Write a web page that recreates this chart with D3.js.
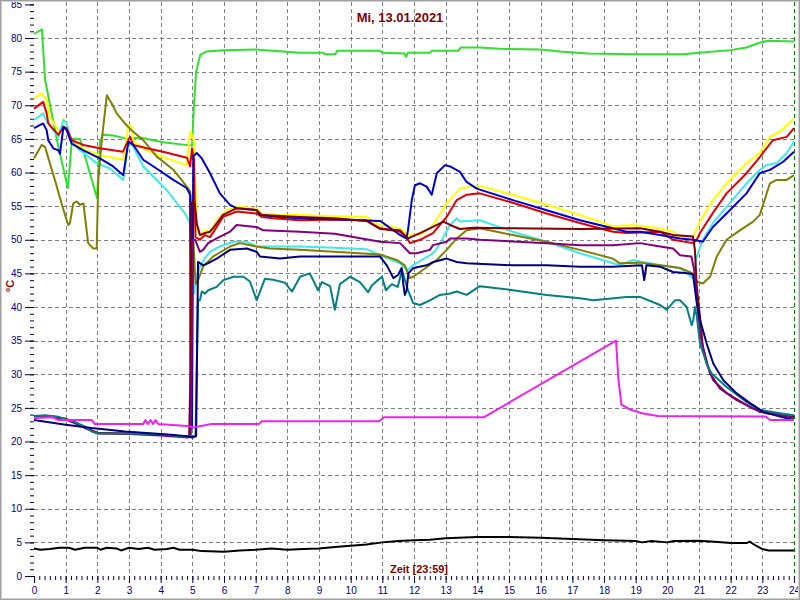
<!DOCTYPE html>
<html>
<head>
<meta charset="utf-8">
<script src="https://cdn.jsdelivr.net/npm/d3@7"></script>
<style>
  html, body { margin: 0; padding: 0; background: #ffffff; }
  svg { display: block; font-family: "Liberation Sans", Arial, sans-serif; }
</style>
</head>
<body>
<script>
// ---------- data ----------
const titleText = "Mi, 13.01.2021";
const xLabelText = "Zeit [23:59]";
const yLabelText = "°C";
const hourTicks = d3.range(0, 25, 1);
const valueTicks = d3.range(0, 86, 5);

const green = [[0,80.6],[0.25,81.3],[0.35,73.8],[0.77,63.8],[1.07,57.7],[1.2,65],[1.45,65],[1.99,56.2],[2.08,64.5],[2.18,65.6],[2.5,65.5],[2.94,65],[3.35,65.2],[4.07,64.5],[4.99,64],[5.05,70],[5.12,75],[5.25,77.5],[5.45,78],[6,78.2],[7,78.3],[8.4,77.8],[9.13,77.8],[9.18,77.6],[9.52,77.6],[9.57,78.1],[10.93,78.1],[11.0,77.8],[11.7,77.7],[11.75,77.2],[11.8,77.8],[12.5,77.8],[12.57,78.1],[13.4,78.1],[13.48,78.6],[14.08,78.6],[14.71,78.4],[16,78.3],[16.6,78],[17.5,77.7],[19,77.6],[20.5,77.6],[21,77.8],[22,78.2],[22.5,78.6],[22.9,79.3],[23.2,79.6],[24,79.5]];

const yellow = [[0,71],[0.24,71.8],[0.4,70.8],[0.5,68.3],[0.82,65.8],[0.93,68],[1.03,67.1],[1.19,64.6],[1.66,63.3],[2.08,62.6],[2.82,61.9],[2.98,67.1],[3.08,66.8],[3.14,64.6],[3.56,63.3],[4.19,62.1],[4.82,61.1],[4.93,66.1],[5.03,65.1],[5.06,63.8],[5.14,51.5],[5.24,50.7],[5.4,51.4],[5.56,51.2],[5.77,52.9],[6.08,54.4],[6.4,54.9],[7.03,54.7],[7.19,53.9],[7.77,53.7],[8.4,53.7],[9.5,53.5],[10.5,53.4],[10.93,52.2],[11.56,51.7],[11.81,50.7],[12.19,50.7],[12.6,52.2],[13.03,55.4],[13.45,57.6],[13.86,58],[14.08,58],[15.12,56.7],[16.19,55.2],[17.24,53.7],[18.28,52],[18.91,52.2],[19.77,51.7],[20.18,51.2],[20.4,50.5],[20.81,50.5],[21.03,52.7],[21.44,55.9],[21.87,58.4],[22.5,61.4],[22.92,62.9],[23.24,65.3],[23.56,66.1],[24,68]];

const red = [[0,69.5],[0.29,70.5],[0.4,68.8],[0.45,67.3],[0.77,65.6],[0.93,66.8],[1.03,66.6],[1.19,64.8],[1.56,64.1],[2.08,63.6],[2.81,63.1],[3.03,65.3],[3.13,64.1],[3.57,63.6],[4.07,63.1],[4.83,62.2],[4.93,60.9],[4.99,63.6],[5.05,61.9],[5.1,50.4],[5.24,50],[5.4,50.7],[5.56,50.4],[5.77,51.9],[5.97,53.4],[6.4,54.2],[7.03,53.9],[7.19,53.4],[7.55,53.2],[8.4,52.9],[9.5,53],[10.5,52.9],[10.93,51.7],[11.56,51.2],[11.81,50],[11.87,49.5],[12.19,50],[12.6,51],[13.03,53.4],[13.35,55.9],[13.66,56.7],[14.08,56.9],[15.12,55.5],[16.19,53.9],[17.24,52.5],[18.28,51.2],[18.71,51],[19.77,51.2],[20.18,50],[20.81,49.5],[20.93,50],[21.03,51],[21.44,54],[21.87,56.9],[22.5,59.9],[22.92,62.3],[23.33,64.8],[23.77,65.3],[24,66.6]];

const cyan = [[0,67.8],[0.29,68.8],[0.4,67.6],[0.77,65.3],[0.93,67.8],[1.03,67.3],[1.19,64.6],[1.45,63.3],[1.98,61.4],[2.4,60.6],[2.82,58.9],[2.98,64.6],[3.14,63.8],[3.45,60.9],[4.19,57.4],[4.77,53.9],[4.93,52.5],[5.0,45],[5.06,42],[5.14,44.5],[5.24,46],[5.4,47.3],[5.56,48.2],[5.87,49],[6.28,49.7],[6.72,49.7],[7.03,49],[8.4,49],[9.5,48.8],[10.5,48.6],[10.93,47.7],[11.56,46.5],[11.71,45.8],[11.81,45.5],[11.97,46.2],[12.6,48],[12.72,48.7],[12.82,49.5],[13.14,52.2],[13.35,53.2],[13.45,52.7],[14.08,52.9],[15.12,51.2],[16.19,49.7],[17.24,48],[18.5,46.2],[18.91,47],[19.77,46.2],[20.4,45.8],[20.81,44.3],[20.93,47.5],[21.12,50],[21.44,52.5],[21.87,54.9],[22.5,58.4],[22.92,60.4],[23.13,61.1],[23.45,61.4],[23.77,62.9],[24,64.6]];

const blue = [[0,66.6],[0.29,67.3],[0.4,66.3],[0.45,64.8],[0.61,63.6],[0.77,63.3],[0.82,62.8],[0.93,66.8],[1.03,66.3],[1.19,64.3],[1.56,63.3],[2.08,62.1],[2.5,60.9],[2.82,59.6],[2.98,64.6],[3.14,64.1],[3.45,61.9],[3.87,60.6],[4.4,58.9],[4.82,57.7],[4.93,56.7],[4.95,22],[4.99,22],[5.03,62.4],[5.14,62.9],[5.3,62.1],[5.56,59.9],[5.87,56.9],[6.19,55.2],[6.4,54.7],[7.03,54.4],[7.14,53.7],[7.77,53.4],[8.4,53.2],[10.93,52.8],[11.56,50.7],[11.76,50.2],[11.81,51.4],[11.93,55.9],[12.03,58.1],[12.19,58.4],[12.4,57.9],[12.56,56.7],[12.72,59.9],[12.98,61.1],[13.14,60.9],[13.45,60.1],[13.66,58.6],[13.98,57.6],[15.12,55.9],[16.19,54.4],[17.24,52.9],[18.28,51.7],[18.71,51.2],[19.14,51.2],[19.77,50.7],[20.4,50.2],[20.81,50],[21.12,49.7],[21.44,51.9],[21.87,53.9],[22.5,56.9],[22.92,59.9],[23.24,60.4],[23.66,61.6],[24,63.1]];

const olive = [[0,62.1],[0.24,64.1],[0.35,63.8],[0.5,61.4],[0.66,58.9],[0.87,55.4],[1.08,52.2],[1.13,52.4],[1.24,55.4],[1.35,55.7],[1.45,55.2],[1.56,55.4],[1.71,49.5],[1.87,48.7],[1.98,48.7],[2.03,58.9],[2.14,64.8],[2.3,71.5],[2.45,70.3],[2.61,68.8],[2.87,67.3],[3.08,66.3],[3.45,64.8],[3.87,62.4],[4.4,60.4],[4.66,58.9],[4.93,57.2],[5.0,53],[5.1,43.5],[5.14,43.5],[5.34,46],[5.65,47.5],[6.19,49],[6.5,49.5],[7.03,49],[7.45,48.7],[8.4,48.5],[10.93,47.8],[11.45,47],[11.71,46.2],[11.87,44.3],[11.97,44.5],[12.28,45.5],[12.72,47],[13.03,48.5],[13.35,50.2],[13.66,51.4],[14.08,51.7],[15.12,50.7],[16.19,49.7],[17.24,48.5],[18.28,47.2],[18.5,46.5],[19.14,46.6],[19.77,46.2],[20.4,45.8],[20.81,45],[20.93,43.8],[21.12,43.5],[21.35,44.5],[21.56,47.5],[21.87,50],[22.29,51.4],[22.71,52.7],[22.92,53.7],[23.24,58.4],[23.45,58.9],[23.77,58.9],[24,59.6]];

const maroon = [[0,23.7],[0.5,23.8],[1,23.4],[1.3,22.8],[1.7,21.9],[2,21.3],[3,21.2],[4,21.0],[4.8,20.7],[4.9,20.8],[4.94,30],[4.97,55.5],[5.08,55.4],[5.14,52.4],[5.24,50.7],[5.4,51],[5.56,51.2],[5.65,51.7],[5.97,53.7],[6.4,54.7],[7.03,54.4],[7.19,53.7],[8.4,53.4],[9.5,53.2],[10.5,52.8],[10.93,51.6],[11.56,51.4],[11.81,50.2],[12.19,51],[12.5,51.7],[12.93,52.7],[13.14,52.2],[13.45,51.6],[13.86,51.8],[15.12,51.7],[17.24,51.6],[19.14,51.7],[19.77,51.2],[20.18,50.7],[20.81,50.5],[20.87,48.5],[20.93,43],[21.03,38.6],[21.12,34.1],[21.35,30.1],[21.66,27.9],[22.18,26.2],[22.71,24.9],[23.13,24.2],[23.56,23.9],[24,23.7]];

const purple = [[0,23.6],[0.5,23.7],[1,23.3],[1.3,22.7],[1.7,21.8],[2,21.2],[3,21.1],[4,20.9],[4.85,20.6],[4.95,20.7],[5.02,50],[5.09,50],[5.24,48.2],[5.34,48.5],[5.5,49.5],[5.77,50.2],[6.19,51.2],[6.4,52.2],[7.03,51.9],[7.24,51.4],[8.4,51.2],[9.5,50.9],[10.93,49.7],[11.56,49.5],[11.87,48],[12.08,48],[12.5,48.5],[12.6,49.2],[13.03,49.7],[13.14,50.2],[13.66,50.2],[14.08,50],[16.19,49.5],[17.24,49.2],[18.28,49.2],[19.14,49.5],[19.77,49],[20.18,48.7],[20.4,47.7],[20.76,47.5],[20.87,45],[20.93,41],[21.03,36.1],[21.24,31.6],[21.45,29.1],[21.87,27.2],[22.4,25.7],[22.92,24.4],[23.33,24.2],[24,23.5]];

const teal = [[0,23.8],[0.35,23.9],[0.77,23.7],[0.98,23.3],[1.29,22.9],[1.61,22.2],[1.82,21.5],[2.03,21.2],[2.87,21.2],[3.93,21.1],[4.77,20.7],[4.93,20.9],[5.1,20.8],[5.18,41],[5.24,41],[5.3,42.3],[5.4,42],[5.5,42.5],[5.77,43],[5.98,44],[6.3,44.5],[6.61,44.5],[6.82,43.8],[7.03,41],[7.29,44.2],[7.6,44],[7.93,43.6],[8.15,42.3],[8.4,44.5],[8.71,45],[8.97,42.5],[9.09,43.7],[9.35,43.1],[9.5,39.6],[9.66,43.4],[9.98,44.5],[10.29,43.7],[10.55,42.2],[10.67,43.2],[10.86,44],[10.99,44.5],[11.11,42.5],[11.3,43.4],[11.49,43],[11.62,45.5],[11.81,42.5],[11.97,40.6],[12.19,40.3],[12.5,41],[12.82,41.8],[13.14,42],[13.35,42.3],[13.66,41.8],[14.08,43.1],[15.12,42.5],[16.19,41.8],[17.24,41.3],[17.66,41],[18.71,41.5],[19.14,41.5],[19.77,40.3],[19.98,39.6],[20.24,41],[20.4,41],[20.61,40],[20.77,37.3],[20.82,38.1],[20.87,40],[20.93,38.6],[21.03,34.6],[21.24,31.6],[21.4,30.1],[21.87,28.1],[22.5,25.9],[22.92,24.7],[23.56,24.2],[24,23.9]];

const navy = [[0,23.2],[1,22.5],[1.82,22],[2.87,21.5],[4.34,21],[4.82,20.8],[5.0,20.6],[5.12,20.8],[5.18,46.7],[5.34,46.2],[5.49,46.5],[5.77,47.2],[6.19,48.5],[6.72,48.7],[7.03,48.2],[7.14,47.5],[7.77,47.2],[8.4,47.5],[10.93,47.5],[11.14,46.2],[11.35,44.3],[11.5,44.8],[11.61,45.8],[11.66,43.5],[11.71,41.8],[11.77,42.5],[11.82,45],[11.98,45.8],[12.4,46.2],[12.61,46.7],[13.03,47.2],[13.35,46.7],[13.66,46.5],[15.12,46.2],[16.19,46.2],[17.24,46],[18.28,46],[19.2,46.2],[19.27,44],[19.34,46.2],[19.77,46],[20.18,45.2],[20.71,45],[20.81,44.8],[20.93,40.6],[21.03,38.1],[21.24,34.6],[21.45,31.6],[21.77,29.1],[22.18,27.2],[22.61,25.7],[23.03,24.4],[23.56,23.7],[24,23.2]];

const magenta = [[0,23.5],[0.6,23.6],[0.75,23.2],[1.82,23.2],[1.92,22.6],[3.45,22.6],[3.52,23.2],[3.6,22.6],[3.68,23.2],[3.76,22.6],[3.84,23.2],[3.92,22.6],[4.85,22.3],[5.05,22.1],[5.6,22.6],[7.1,22.6],[7.2,23],[10.9,23],[11.05,23.6],[14.2,23.6],[18.38,35],[18.45,29.5],[18.55,25.5],[18.8,24.8],[19.2,24.2],[19.7,23.8],[23.1,23.7],[23.25,23.2],[24,23.2]];

const black = [[0,4.1],[0.2,3.9],[0.5,4.0],[0.8,4.2],[1.1,4.2],[1.3,3.9],[1.6,4.2],[2.0,4.2],[2.1,3.9],[2.3,4.2],[2.6,4.1],[2.75,3.8],[3.0,4.2],[3.3,4.0],[3.6,4.2],[3.8,3.9],[4.2,4.0],[4.4,4.2],[4.6,3.9],[5.0,3.9],[5.3,3.7],[6.0,3.6],[6.5,3.8],[7.0,3.9],[7.5,4.1],[8.0,3.9],[8.5,4.0],[9.0,4.1],[9.5,4.3],[10.0,4.5],[10.5,4.7],[11.0,5.0],[11.5,5.2],[12,5.3],[12.5,5.4],[13,5.6],[14,5.8],[15,5.8],[16,5.7],[17,5.5],[18,5.3],[19,5.2],[19.2,5.0],[19.5,5.2],[20,5.0],[20.2,5.2],[21,5.25],[21.5,5.1],[22,4.9],[22.5,4.9],[22.6,5.1],[22.8,4.5],[23,4.0],[23.2,3.8],[24,3.8]];

const seriesList = [
  { data: green,   color: "#30e030" },
  { data: yellow,  color: "#ffff00" },
  { data: cyan,    color: "#40e8e8" },
  { data: olive,   color: "#808000" },
  { data: red,     color: "#e00000" },
  { data: blue,    color: "#0000cc" },
  { data: maroon,  color: "#800000" },
  { data: purple,  color: "#800080" },
  { data: teal,    color: "#008080" },
  { data: navy,    color: "#000080" },
  { data: magenta, color: "#ee22ee" },
  { data: black,   color: "#000000" }
];

// ---------- chart ----------
const W = 800, H = 600;
const x = d3.scaleLinear().domain([0, 24]).range([34, 794]);
const y = d3.scaleLinear().domain([0, 85]).range([576, 4.4]);

const svg = d3.select("body").append("svg").attr("width", W).attr("height", H);
svg.append("rect").attr("x", 0).attr("y", 0).attr("width", W).attr("height", H).attr("fill", "#ffffff");

// grid
const grid = svg.append("g");
grid.selectAll("line.h").data(valueTicks.filter(v => v > 0 && v < 85)).enter().append("line")
  .attr("x1", x(0)).attr("x2", x(24))
  .attr("y1", d => Math.round(y(d)) + 0.5).attr("y2", d => Math.round(y(d)) + 0.5)
  .attr("stroke", "#808080").attr("stroke-width", 1).attr("stroke-dasharray", "4,3");
grid.selectAll("line.v").data(hourTicks.filter(h => h > 0 && h < 24)).enter().append("line")
  .attr("x1", d => Math.round(x(d)) + 0.5).attr("x2", d => Math.round(x(d)) + 0.5)
  .attr("y1", 2).attr("y2", y(0))
  .attr("stroke", "#808080").attr("stroke-width", 1).attr("stroke-dasharray", "4,3");
// current time marker
svg.append("line")
  .attr("x1", Math.round(x(24)) + 0.5).attr("x2", Math.round(x(24)) + 0.5)
  .attr("y1", 2).attr("y2", y(0))
  .attr("stroke", "#008000").attr("stroke-width", 1).attr("stroke-dasharray", "4,3");

// axes
const axisColor = "#000040";
const labelColor = "#000080";
const yMinor = svg.append("g").attr("transform", "translate(34,0)")
  .call(d3.axisLeft(y).tickValues(d3.range(0, 86, 1)).tickSize(4).tickFormat(""));
const yMajor = svg.append("g").attr("transform", "translate(34,0)")
  .call(d3.axisLeft(y).tickValues(valueTicks).tickSize(9).tickPadding(3).tickFormat(d3.format("d")));
const xMinor = svg.append("g").attr("transform", "translate(0,576)")
  .call(d3.axisBottom(x).tickValues(d3.range(0, 24 * 6 + 1).map(i => i / 6)).tickSize(4).tickFormat(""));
const xMajor = svg.append("g").attr("transform", "translate(0,576)")
  .call(d3.axisBottom(x).tickValues(hourTicks).tickSize(7).tickPadding(4).tickFormat(d3.format("d")));
[yMinor, yMajor, xMinor, xMajor].forEach(g => {
  g.select(".domain").remove();
  g.selectAll(".tick line").attr("stroke", axisColor);
  g.selectAll(".tick text").attr("fill", labelColor).style("font-size", "10px")
    .style("font-family", "'Liberation Sans', Arial, sans-serif");
});

// lines
const line = d3.line().x(d => x(d[0])).y(d => y(d[1])).curve(d3.curveLinear);
svg.append("g").selectAll("path").data(seriesList).enter().append("path")
  .attr("d", d => line(d.data))
  .attr("fill", "none")
  .attr("stroke", d => d.color)
  .attr("stroke-width", 2)
  .attr("stroke-linejoin", "round");

// texts
svg.append("text").attr("x", 400).attr("y", 22).attr("text-anchor", "middle")
  .attr("fill", "#800000").style("font-size", "13px").style("font-weight", "bold")
  .text(titleText);
svg.append("text").attr("x", 419).attr("y", 573).attr("text-anchor", "middle")
  .attr("fill", "#800000").style("font-size", "11px").style("font-weight", "bold")
  .text(xLabelText);
svg.append("text").attr("transform", "translate(14,286) rotate(-90)").attr("text-anchor", "middle")
  .attr("fill", "#800000").style("font-size", "11px").style("font-weight", "bold")
  .text(yLabelText);

// frame
svg.append("rect").attr("x", 0.5).attr("y", 0.5).attr("width", W - 1).attr("height", H - 1)
  .attr("fill", "none").attr("stroke", "#a0a0a0").attr("stroke-width", 1);
svg.append("rect").attr("x", 1.5).attr("y", 1.5).attr("width", W - 3).attr("height", H - 3)
  .attr("fill", "none").attr("stroke", "#d0d0d0").attr("stroke-width", 1);
</script>
</body>
</html>
